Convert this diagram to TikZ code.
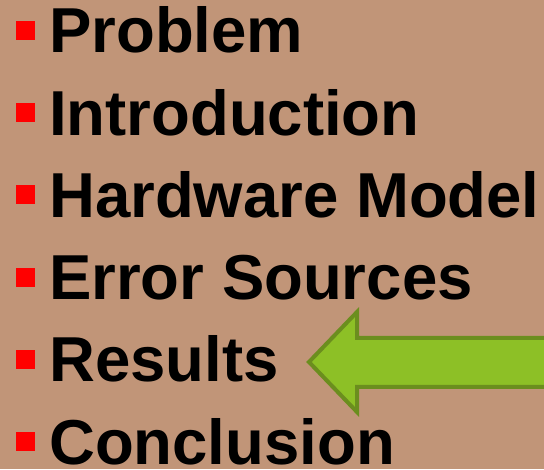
\documentclass[tikz,border=0pt]{standalone}
\usepackage{fontspec}
\setmainfont{Liberation Sans}
\definecolor{bgc}{RGB}{193,149,120}
\definecolor{arrowfill}{RGB}{141,192,38}
\definecolor{arrowline}{RGB}{107,142,30}
\begin{document}
\begin{tikzpicture}[x=1pt,y=1pt,
  item/.style={anchor=base west, inner sep=0pt, font=\fontsize{63.5}{63.5}\selectfont\bfseries},
  bulletsq/.style={fill=red, draw=none}]
\useasboundingbox (0,0) rectangle (544,469);
\fill[bgc] (0,0) rectangle (544,469);
\foreach \t [count=\i] in {Problem,Introduction,Hardware Model,Error Sources,Results,Conclusion}{
  \pgfmathsetmacro{\yb}{469-53-(\i-1)*82.2}
  \node[item] (item\i) at (49,\yb) {\t};
  \fill[bulletsq] (16,\yb+13) rectangle (35,\yb+32);
}
\begin{scope}
\clip (0,0) rectangle (544,469);
\draw[line width=4pt, draw=arrowline, fill=arrowfill, line join=miter]
  (309,107) -- (357,157) -- (357,131) -- (570,131) -- (570,82) -- (357,82) -- (357,57) -- cycle;
\end{scope}
\end{tikzpicture}
\end{document}
